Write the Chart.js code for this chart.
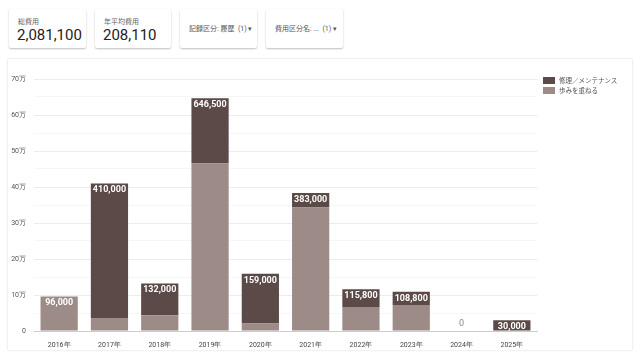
<!DOCTYPE html>
<html>
<head>
<meta charset="utf-8">
<script src="https://cdn.jsdelivr.net/npm/chart.js@4"></script>
<style>
    body { margin: 0; width: 640px; height: 358px; background: #fff; font-family: Roboto, "Noto Sans CJK JP", sans-serif; overflow: hidden; position: relative; }
    .card { position: absolute; top: 9px; height: 39px; background: #fff; border-radius: 2px; box-shadow: 0 1px 2px rgba(0,0,0,0.25); box-sizing: border-box; }
    .card .lbl { position: absolute; left: 9px; top: 7px; font-size: 7px; color: #666; }
    .card .val { position: absolute; left: 8px; top: 17px; font-size: 15px; color: #222; }
    .card .sel { position: absolute; left: 9px; top: 14px; font-size: 7px; color: #555; white-space: nowrap; }
    .panel { position: absolute; left: 8px; top: 59px; width: 624px; height: 291px; background: #fff; box-shadow: 0 0 2px rgba(0,0,0,0.18); }
    #wrap { position: absolute; left: 0; top: 0; width: 624px; height: 291px; }
    .legend { position: absolute; left: 535px; top: 18px; font-size: 6.5px; color: #555; }
    .legend div { height: 10px; line-height: 8px; white-space: nowrap; }
    .legend span { display: inline-block; width: 12px; height: 7px; margin-right: 4px; vertical-align: top; }
</style>
</head>
<body>
<div class="card" style="left:9px;width:77px"><div class="lbl">総費用</div><div class="val">2,081,100</div></div>
<div class="card" style="left:95px;width:76px"><div class="lbl">年平均費用</div><div class="val">208,110</div></div>
<div class="card" style="left:180px;width:77px"><div class="sel">記録区分: 履歴 &nbsp;(1) ▾</div></div>
<div class="card" style="left:266px;width:77px"><div class="sel">費用区分名: ... &nbsp;(1) ▾</div></div>
<div class="panel">
    <div id="wrap"><canvas id="myChart"></canvas></div>
    <div class="legend">
        <div><span style="background:#5b4a47"></span>修理／メンテナンス</div>
        <div><span style="background:#9c8b87"></span>歩みを重ねる</div>
    </div>
</div>
<script>
var years = ["2016年", "2017年", "2018年", "2019年", "2020年", "2021年", "2022年", "2023年", "2024年", "2025年"];
var repairValues = [0, 374000, 88000, 181500, 138000, 40000, 48800, 36800, 0, 30000];
var stepValues = [96000, 36000, 44000, 465000, 21000, 343000, 67000, 72000, 0, 0];
var yMax = 700000;

var darkColor = "#5b4a47";
var lightColor = "#9c8b87";

var totalLabels = {
    id: "totalLabels",
    afterDatasetsDraw: function (chart) {
        var ctx = chart.ctx;
        var yScale = chart.scales.y;
        var xScale = chart.scales.x;
        ctx.save();
        ctx.textAlign = "center";
        for (var i = 0; i < years.length; i++) {
            var total = repairValues[i] + stepValues[i];
            var x = xScale.getPixelForValue(i);
            var text = total.toLocaleString("en-US");
            if (total > 0) {
                ctx.font = "bold 9px Roboto";
                ctx.fillStyle = "#fff";
                ctx.textBaseline = "top";
                ctx.fillText(text, x, yScale.getPixelForValue(total) + 2);
            } else {
                ctx.font = "9px Roboto";
                ctx.fillStyle = "#888";
                ctx.textBaseline = "bottom";
                ctx.fillText(text, x, yScale.getPixelForValue(0) - 3);
            }
        }
        ctx.restore();
    }
};

function drawChart() {
    var ctx = document.getElementById("myChart").getContext("2d");
    new Chart(ctx, {
        type: "bar",
        data: {
            labels: years,
            datasets: [
                { label: "歩みを重ねる", data: stepValues, backgroundColor: lightColor },
                { label: "修理／メンテナンス", data: repairValues, backgroundColor: darkColor }
            ]
        },
        options: {
            responsive: true,
            maintainAspectRatio: false,
            animation: false,
            layout: { padding: { top: 20, right: 95, left: 0, bottom: 0 } },
            categoryPercentage: 1,
            barPercentage: 0.74,
            plugins: {
                legend: { display: false },
                tooltip: { enabled: false }
            },
            scales: {
                x: {
                    stacked: true,
                    grid: { display: false },
                    border: { color: "#ccc" },
                    ticks: { color: "#444", font: { size: 7, family: "Roboto" }, padding: 2 },
                    afterFit: function (axis) { axis.height = 19; }
                },
                y: {
                    stacked: true,
                    min: 0,
                    max: yMax,
                    border: { display: false },
                    grid: {
                        color: function (c) { return c.tick && c.tick.value % 100000 === 0 ? "#ececec" : "#f6f6f6"; },
                        drawTicks: false
                    },
                    ticks: {
                        stepSize: 50000,
                        color: "#555",
                        font: { size: 7, family: "Roboto" },
                        padding: 8,
                        callback: function (v) {
                            if (v % 100000 !== 0) return "";
                            return v === 0 ? "0" : (v / 10000) + "万";
                        }
                    },
                    afterFit: function (axis) { axis.width = 26; }
                }
            }
        },
        plugins: [totalLabels]
    });
}

window.onload = drawChart;
</script>
</body>
</html>
